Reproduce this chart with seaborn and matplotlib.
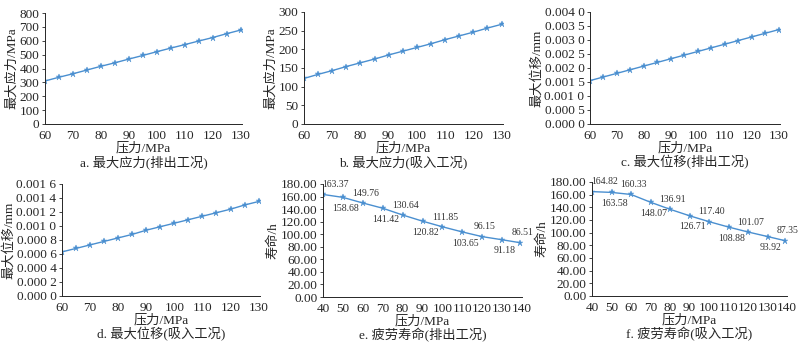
import numpy as np
import pandas as pd
import seaborn as sns
import matplotlib.pyplot as plt
from matplotlib.ticker import FuncFormatter

# data
P_TOP = [60, 65, 70, 75, 80, 85, 90, 95, 100, 105, 110, 115, 120, 125, 130]
STRESS_OUT = [310, 337, 362, 389, 416, 441, 468, 494, 521, 547, 572, 598, 623, 651, 677]
STRESS_IN = [122, 133, 143, 154, 164, 174, 185, 195, 205, 215, 226, 236, 246, 257, 267]
DISP_OUT = [0.00155, 0.00168, 0.00181, 0.00194, 0.00207, 0.00220, 0.00233, 0.00246,
            0.00259, 0.00272, 0.00285, 0.00298, 0.00311, 0.00324, 0.00337]
DISP_IN = [0.00063, 0.00068, 0.00073, 0.00078, 0.00083, 0.00088, 0.00094, 0.00099,
           0.00104, 0.00109, 0.00114, 0.00119, 0.00124, 0.00130, 0.00135]
P_LIFE = [40, 50, 60, 70, 80, 90, 100, 110, 120, 130, 139]
LIFE_OUT = [163.37, 158.68, 149.76, 141.42, 130.64, 120.82, 111.85, 103.65, 96.15, 91.18, 86.51]
LIFE_IN = [164.82, 163.58, 160.33, 148.07, 136.91, 126.71, 117.40, 108.88, 101.07, 93.92, 87.35]

BLUE = "#4a8fd0"
W, H = 798, 344

sns.set_style("ticks")
plt.rcParams['font.family'] = ['Liberation Serif', 'Noto Sans CJK SC']
plt.rcParams['font.size'] = 8.5
plt.rcParams['axes.unicode_minus'] = False


def grouped(v, pos):
    s = f"{v:.4f}"
    return s[:5] + " " + s[5:]


def add_ax(fig, left, top, right, bottom):
    return fig.add_axes([left / W, 1 - bottom / H, (right - left) / W, (bottom - top) / H])


def panel(fig, box, x, y, ylabel, caption, xlim, xticks, ylim, yticks, fmt=None, labels=False):
    ax = add_ax(fig, *box)
    df = pd.DataFrame({"x": x, "y": y})
    sns.lineplot(data=df, x="x", y="y", ax=ax, color=BLUE, lw=1.0,
                 marker="*", markersize=4.5, markeredgewidth=0.3, markeredgecolor=BLUE)
    ax.set_xlim(*xlim)
    ax.set_ylim(*ylim)
    ax.set_xticks(xticks)
    ax.set_yticks(yticks)
    if fmt:
        ax.yaxis.set_major_formatter(FuncFormatter(fmt))
    ax.tick_params(axis="both", labelsize=9.5, length=2, width=0.6, pad=2)
    ax.tick_params(axis="x", length=0, pad=4)
    sns.despine(ax=ax)
    for s in ax.spines.values():
        s.set_linewidth(0.7)
    ax.set_xlabel("压力/MPa", fontsize=9.5, labelpad=0)
    ax.set_ylabel(ylabel, fontsize=9.5, labelpad=1)
    if labels:
        for i, (xi, yi) in enumerate(zip(x, y)):
            dy = 7 if i % 2 == 0 else -8
            ax.annotate(f"{yi:.2f}", (xi, yi), xytext=(9 if i == 0 else 2, dy),
                        textcoords="offset points", ha="center", va="center",
                        fontsize=7, color="#333333")
    l, t, r, b = box
    fig.text((l + r) / 2 / W, 1 - (b + 38) / H, caption, ha="center", va="center", fontsize=9.5)
    return ax


fig = plt.figure(figsize=(W / 100, H / 100), dpi=100)

panel(fig, (45, 13, 242, 124), P_TOP, STRESS_OUT, "最大应力/MPa", "a. 最大应力(排出工况)",
      (60, 130.5), range(60, 131, 10), (0, 800), range(0, 801, 100))
panel(fig, (304, 12, 503, 124), P_TOP, STRESS_IN, "最大应力/MPa", "b. 最大应力(吸入工况)",
      (60, 130.5), range(60, 131, 10), (0, 300), range(0, 301, 50))
panel(fig, (590, 12, 780, 124), P_TOP, DISP_OUT, "最大位移/mm", "c. 最大位移(排出工况)",
      (60, 130.5), range(60, 131, 10), (0, 0.004), np.arange(0, 0.00401, 0.0005), fmt=grouped)
panel(fig, (62, 184, 260, 296), P_TOP, DISP_IN, "最大位移/mm", "d. 最大位移(吸入工况)",
      (60, 130.5), range(60, 131, 10), (0, 0.0016), np.arange(0, 0.00161, 0.0002), fmt=grouped)
panel(fig, (323, 184, 522, 297), P_LIFE, LIFE_OUT, "寿命/h", "e. 疲劳寿命(排出工况)",
      (40, 140), range(40, 141, 10), (0, 180), range(0, 181, 20),
      fmt=lambda v, p: f"{v:.2f}", labels=True)
panel(fig, (592, 182, 787, 296), P_LIFE, LIFE_IN, "寿命/h", "f. 疲劳寿命(吸入工况)",
      (40, 140), range(40, 141, 10), (0, 180), range(0, 181, 20),
      fmt=lambda v, p: f"{v:.2f}", labels=True)

fig.savefig("out.png", dpi=100)
